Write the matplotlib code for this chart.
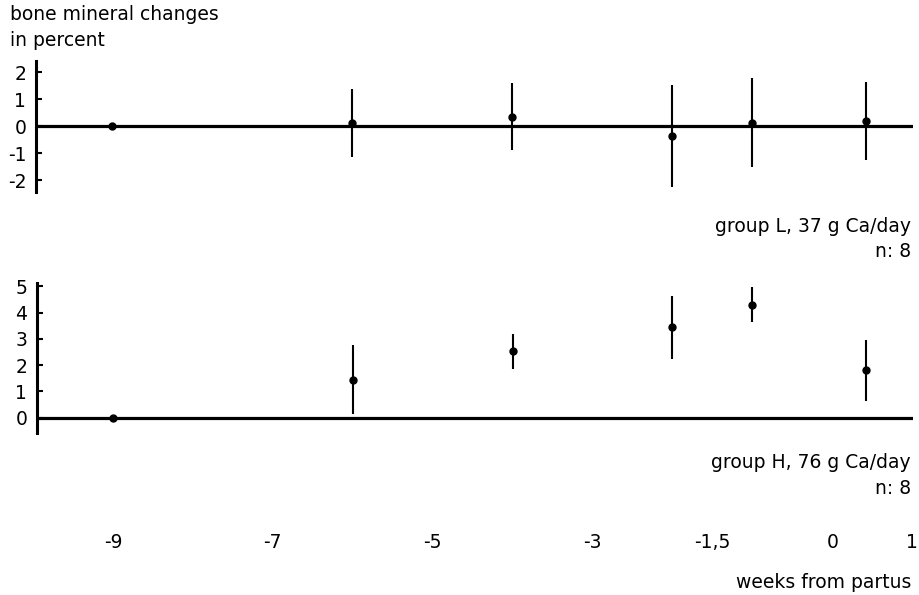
"""Bone mineral changes around partus for two Ca-intake groups."""
import numpy as np
import matplotlib
matplotlib.use("Agg")
import matplotlib.pyplot as plt

plt.rcParams["font.family"] = ["DejaVu Sans"]
plt.rcParams["axes.unicode_minus"] = False

# weeks from partus at which bone mineral was measured
weeks = [-9, -6, -4, -2, -1, 0.42]

# group L, 37 g Ca/day
low_mean = [0.0, 0.12, 0.35, -0.37, 0.13, 0.18]
low_err = [0.0, 1.25, 1.25, 1.9, 1.65, 1.45]

# group H, 76 g Ca/day
high_mean = [0.0, 1.45, 2.52, 3.45, 4.3, 1.8]
high_err = [0.0, 1.3, 0.67, 1.2, 0.67, 1.17]

x_ticks = [-9, -7, -5, -3, -1.5, 0, 1]
x_tick_labels = ["-9", "-7", "-5", "-3", "-1,5", "0", "1"]
low_yticks = [-2, -1, 0, 1, 2]
high_yticks = [0, 1, 2, 3, 4, 5]

W, H = 919, 595
XLIM = (-9.95, 1.01)
TXT = 13.5


def panel(rect, means, errs, ylim, yticks):
    ax = fig.add_axes(rect)
    ax.set_xlim(*XLIM)
    ax.set_ylim(*ylim)
    for side in ("top", "right", "bottom"):
        ax.spines[side].set_visible(False)
    ax.spines["left"].set_linewidth(2.2)
    ax.axhline(0, color="black", lw=2.3, zorder=1)
    ax.errorbar(weeks, means, yerr=errs, fmt="o", color="black", ms=5,
                elinewidth=1.5, capsize=0, zorder=3)
    ax.set_yticks(yticks)
    ax.set_yticklabels([str(t) for t in yticks])
    ax.tick_params(axis="y", direction="in", length=4, width=1.5,
                   labelsize=13.5, pad=7)
    ax.set_xticks([])
    return ax


fig = plt.figure(figsize=(W / 100, H / 100), dpi=100)


def rect(left, top, right, bottom):
    return [left / W, 1 - bottom / H, (right - left) / W, (bottom - top) / H]


ax1 = panel(rect(36, 61, 913, 192), low_mean, low_err, (-2.44, 2.41), low_yticks)
ax2 = panel(rect(37, 283, 913, 433), high_mean, high_err, (-0.59, 5.13), high_yticks)

ax2.set_xticks(x_ticks)
ax2.set_xticklabels(x_tick_labels)
ax2.tick_params(axis="x", length=0, labelsize=13.5, pad=72)

fig.text(10 / W, 1 - 14 / H, "bone mineral changes", fontsize=TXT, va="center", ha="left")
fig.text(10 / W, 1 - 40 / H, "in percent", fontsize=TXT, va="center", ha="left")

fig.text(911 / W, 1 - 227 / H, "group L, 37 g Ca/day", fontsize=TXT, va="center", ha="right")
fig.text(911 / W, 1 - 251 / H, "n: 8", fontsize=TXT, va="center", ha="right")
fig.text(911 / W, 1 - 463 / H, "group H, 76 g Ca/day", fontsize=TXT, va="center", ha="right")
fig.text(911 / W, 1 - 488 / H, "n: 8", fontsize=TXT, va="center", ha="right")
fig.text(911 / W, 1 - 582 / H, "weeks from partus", fontsize=TXT, va="center", ha="right")

fig.savefig("out.png", dpi=100)
plt.close(fig)
